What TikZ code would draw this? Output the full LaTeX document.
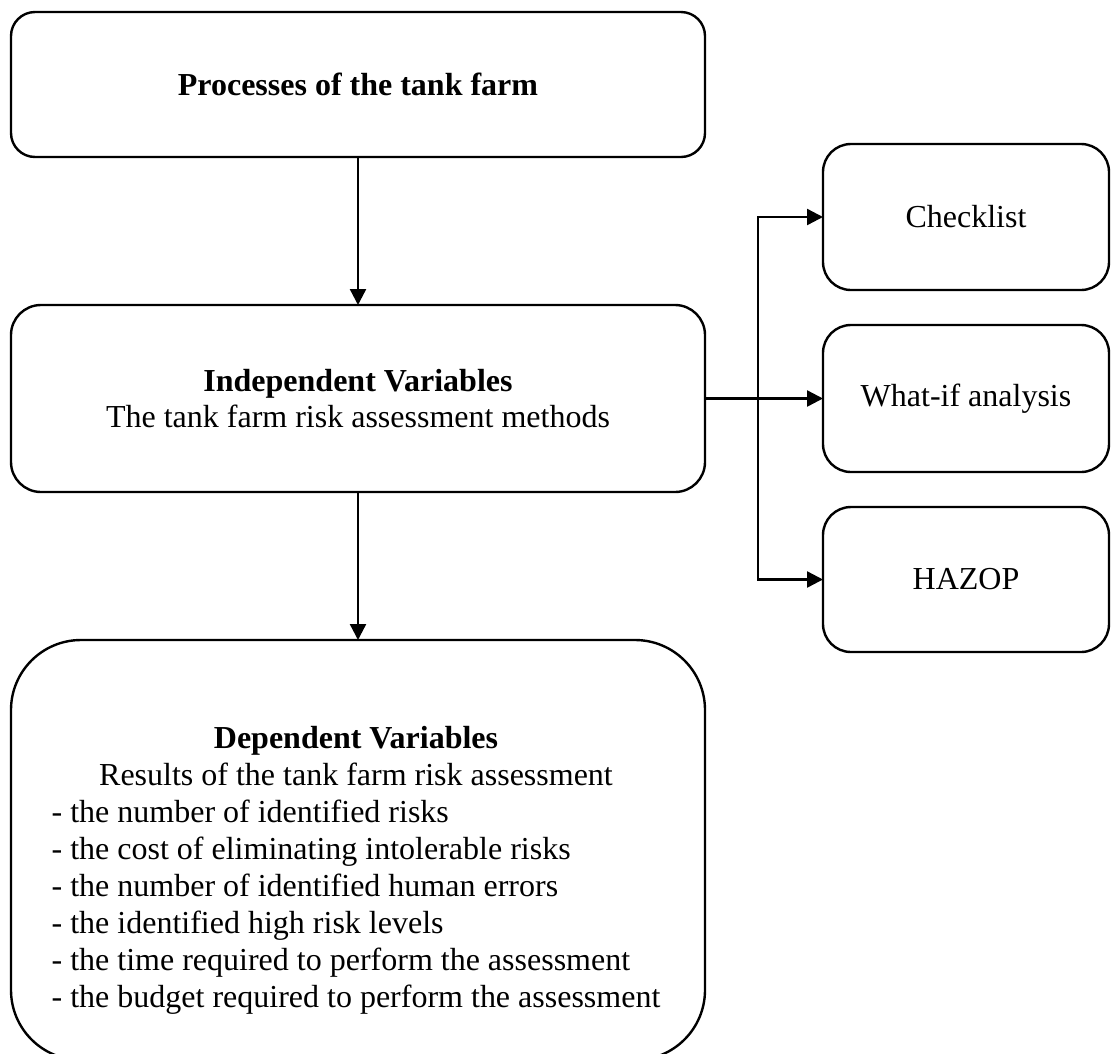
\documentclass[tikz,border=0pt]{standalone}
\usepackage{fontspec}
\setmainfont{Liberation Serif}
\usetikzlibrary{arrows.meta}
\tikzset{
  box/.style={draw=black, line width=2.4pt, inner sep=0pt, outer sep=0pt,
    align=center, font=\fontsize{32}{36}\selectfont},
  arr/.style={line width=2.4pt, -{Triangle[length=16pt,width=16pt]}},
}
\begin{document}
\begin{tikzpicture}[x=1pt,y=-1pt]
\useasboundingbox[fill=white] (0,0) rectangle (1111,1053);
% main column
\node[box, rounded corners=24pt, minimum width=694pt, minimum height=145pt] (top) at (358,84.5) {\textbf{Processes of the tank farm}};
\node[box, rounded corners=30pt, minimum width=694pt, minimum height=187pt] (mid) at (358,398.5) {\textbf{Independent Variables}\\The tank farm risk assessment methods};
\node[box, rounded corners=70pt, minimum width=694pt, minimum height=420pt] (bot) at (358,850) {};
\node[inner sep=0pt, font=\fontsize{32}{37}\selectfont] (bottxt) at (356,871) {%
  \begin{tabular}{@{}l@{}}
  \multicolumn{1}{@{}c@{}}{\textbf{Dependent Variables}}\\
  \multicolumn{1}{@{}c@{}}{Results of the tank farm risk assessment}\\
  - the number of identified risks\\
  - the cost of eliminating intolerable risks\\
  - the number of identified human errors\\
  - the identified high risk levels\\
  - the time required to perform the assessment\\
  - the budget required to perform the assessment
  \end{tabular}};
% right column
\node[box, rounded corners=28pt, minimum width=286pt, minimum height=146pt] (check) at (966,217) {Checklist};
\node[box, rounded corners=28pt, minimum width=286pt, minimum height=147pt] (whatif) at (966,398.5) {What-if analysis};
\node[box, rounded corners=28pt, minimum width=286pt, minimum height=145pt] (hazop) at (966,579.5) {HAZOP};
% connectors
\draw[arr] (top.south) -- (mid.north);
\draw[arr] (mid.south) -- (bot.north);
\coordinate (jn) at (758,398.5);
\draw[arr] (mid.east) -- (whatif.west);
\draw[arr] (jn) |- (check.west);
\draw[arr] (jn) |- (hazop.west);
\end{tikzpicture}
\end{document}
